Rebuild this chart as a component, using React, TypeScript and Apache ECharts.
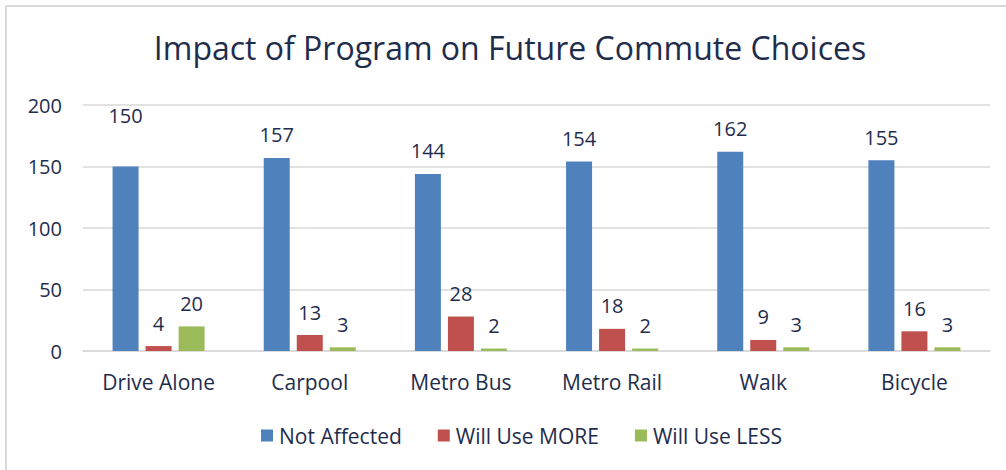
import React, { useEffect, useRef } from "react";
import * as echarts from "echarts";

const categories = ["Drive Alone", "Carpool", "Metro Bus", "Metro Rail", "Walk", "Bicycle"];
const notAffected = [150, 157, 144, 154, 162, 155];
const willUseMore = [4, 13, 28, 18, 9, 16];
const willUseLess = [20, 3, 2, 2, 3, 3];
const seriesNames = ["Not Affected", "Will Use MORE", "Will Use LESS"];
const colors = ["#4F81BD", "#C0504D", "#9BBB59"];

const textColor = "#1F2D4D";
const font = "'Open Sans', 'Noto Sans', sans-serif";

export default function App() {
  const ref = useRef<HTMLDivElement>(null);
  useEffect(() => {
    if (!ref.current) return;
    const chart = echarts.init(ref.current, null, { renderer: "svg" });
    const mk = (name: string, data: number[], color: string, idx: number) => ({
      name,
      type: "bar",
      barWidth: 26,
      barGap: "27%",
      itemStyle: { color },
      label: {
        show: true,
        position: "top",
        distance: 13,
        color: textColor,
        fontSize: 20,
        fontFamily: font,
      },
      data: data.map((v, i) =>
        idx === 0 && i === 0 ? { value: v, label: { distance: 41 } } : v
      ),
    });
    chart.setOption({
      animation: false,
      backgroundColor: "#ffffff",
      title: {
        text: "Impact of Program on Future Commute Choices",
        left: 505,
        textAlign: "center",
        top: 26,
        textStyle: { color: textColor, fontSize: 32, fontWeight: "normal", fontFamily: font },
      },
      legend: {
        data: seriesNames,
        left: 256,
        top: 420,
        itemWidth: 12,
        itemHeight: 12,
        itemGap: 36,
        icon: "rect",
        textStyle: { color: textColor, fontSize: 21, fontFamily: font, padding: [0, 0, 0, 1] },
      },
      grid: { left: 83, right: 16, top: 105, bottom: 119, containLabel: false },
      xAxis: {
        type: "category",
        data: categories,
        axisTick: { show: false },
        axisLine: { lineStyle: { color: "#D9D9D9", width: 1.5 } },
        axisLabel: { color: textColor, fontSize: 21, fontFamily: font, margin: 20 },
      },
      yAxis: {
        type: "value",
        min: 0,
        max: 200,
        interval: 50,
        axisLabel: { color: textColor, fontSize: 20, fontFamily: font, margin: 21 },
        splitLine: { lineStyle: { color: "#D9D9D9", width: 1.5 } },
        axisLine: { show: false },
        axisTick: { show: false },
      },
      graphic: [
        { type: "line", shape: { x1: 6, y1: 6, x2: 1006, y2: 6 }, style: { stroke: "#D9D9D9", lineWidth: 2 } },
        { type: "line", shape: { x1: 6, y1: 6, x2: 6, y2: 470 }, style: { stroke: "#D9D9D9", lineWidth: 2 } },
      ],
      series: [
        mk(seriesNames[0], notAffected, colors[0], 0),
        mk(seriesNames[1], willUseMore, colors[1], 1),
        mk(seriesNames[2], willUseLess, colors[2], 2),
      ],
    });
    return () => chart.dispose();
  }, []);
  return (
    <div
      ref={ref}
      style={{ position: "fixed", left: 0, top: 0, width: 1006, height: 470 }}
    />
  );
}
